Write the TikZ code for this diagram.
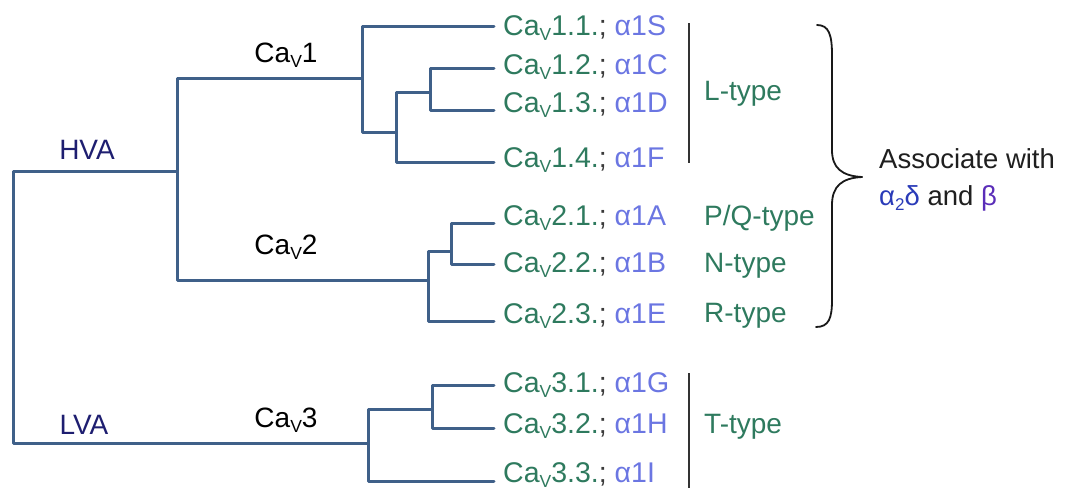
\documentclass[tikz,border=0pt]{standalone}
\usepackage{fontspec}
\setmainfont{Liberation Sans}
\definecolor{treeblue}{HTML}{3F6089}
\definecolor{leafgreen}{HTML}{2E7A5E}
\definecolor{isoblue}{HTML}{6B76E2}
\definecolor{navy}{HTML}{1E1E70}
\definecolor{auxblue}{HTML}{2A3BB8}
\definecolor{betapurple}{HTML}{5A2DB8}
\definecolor{bargray}{HTML}{333333}
\definecolor{semigray}{HTML}{3A3A3A}
% Ca_V with a small lowered V
\newcommand\CaV{Ca\raisebox{-5pt}{\fontsize{17.5}{17.5}\selectfont V}}
% one channel entry: green name, dark semicolon, blue alpha1 subunit
\newcommand\chan[2]{{\color{leafgreen}\CaV#1}{\color{semigray};} {\color{isoblue}α1#2}}
\begin{document}
\begin{tikzpicture}[x=1pt,y=-1pt,
  tree/.style={draw=treeblue,line width=3pt,line join=round,line cap=round},
  txt/.style={inner sep=0pt,anchor=base west,font=\fontsize{28.5}{32}\selectfont},
  leaflbl/.style={txt},
  typelbl/.style={txt,font=\fontsize{28}{32}\selectfont,text=leafgreen},
  grouplbl/.style={inner sep=0pt,font=\fontsize{28}{32}\selectfont},
  bar/.style={draw=bargray,line width=2pt},
  bracestyle/.style={draw=black!90,line width=1.8pt,line join=round,line cap=round}]
\useasboundingbox (0,0) rectangle (1072,488);

% branch points (vertical-line x, incoming y)
\coordinate (root) at (13,307);
\coordinate (hva)  at (177,171);
\coordinate (lva)  at (368,443);
\coordinate (c1)   at (362,78);
\coordinate (c2)   at (428,280);
\coordinate (n13)  at (396,132);
\coordinate (n12)  at (430,92);
\coordinate (n22)  at (451,251);
\coordinate (n32)  at (432,409);
% leaf ends
\coordinate (l11) at (494,26);
\coordinate (l12) at (494,68);
\coordinate (l13) at (494,110);
\coordinate (l14) at (494,162);
\coordinate (l21) at (494,223);
\coordinate (l22) at (494,264);
\coordinate (l23) at (494,321);
\coordinate (l31) at (494,385);
\coordinate (l32) at (494,428);
\coordinate (l33) at (494,481);

% dendrogram
\draw[tree] (hva) -| (root) |- (lva);
\draw[tree] (c1) -| (hva) |- (c2);
\draw[tree] (l11) -| (c1) |- (n13);
\draw[tree] (n12) -| (n13) |- (l14);
\draw[tree] (l12) -| (n12) |- (l13);
\draw[tree] (n22) -| (c2) |- (l23);
\draw[tree] (l21) -| (n22) |- (l22);
\draw[tree] (n32) -| (lva) |- (l33);
\draw[tree] (l31) -| (n32) |- (l32);

% branch labels
\node[grouplbl,text=navy] (hvalbl) at (87,150) {HVA};
\node[grouplbl,text=navy] (lvalbl) at (84,425) {LVA};
\node[grouplbl] (cav1) at (286,55) {\CaV1};
\node[grouplbl] (cav2) at (286,247) {\CaV2};
\node[grouplbl] (cav3) at (286,420) {\CaV3};

% channel entries
\node[leaflbl] (t11) at (503,35)  {\chan{1.1.}{S}};
\node[leaflbl] (t12) at (503,74)  {\chan{1.2.}{C}};
\node[leaflbl] (t13) at (503,112) {\chan{1.3.}{D}};
\node[leaflbl] (t14) at (503,167) {\chan{1.4.}{F}};
\node[leaflbl] (t21) at (503,225) {\chan{2.1.}{A}};
\node[leaflbl] (t22) at (503,272) {\chan{2.2.}{B}};
\node[leaflbl] (t23) at (503,323) {\chan{2.3.}{E}};
\node[leaflbl] (t31) at (503,392) {\chan{3.1.}{G}};
\node[leaflbl] (t32) at (503,433) {\chan{3.2.}{H}};
\node[leaflbl] (t33) at (503,482) {\chan{3.3.}{I}};

% current types
\coordinate (lbartop) at (689,23);
\coordinate (lbarbot) at (689,163);
\coordinate (tbartop) at (689,373);
\coordinate (tbarbot) at (689,488);
\draw[bar] (lbartop) -- (lbarbot);
\draw[bar] (tbartop) -- (tbarbot);
\node[typelbl] (ltype)  at (704,100) {L-type};
\node[typelbl] (pqtype) at (704,225) {P/Q-type};
\node[typelbl] (ntype)  at (704,272) {N-type};
\node[typelbl] (rtype)  at (704,322) {R-type};
\node[typelbl] (ttype)  at (704,433) {T-type};

% curly brace grouping the high-voltage-activated channels
\draw[bracestyle] (817,25) .. controls (829,25) and (832,35) .. (832,55)
  -- (832,150) .. controls (832,168) and (842,176) .. (862,177);
\draw[bracestyle] (862,177) .. controls (842,178) and (832,186) .. (832,205)
  -- (832,300) .. controls (832,318) and (829,327) .. (816,327);

% auxiliary subunits
\node[txt,font=\fontsize{27.5}{32}\selectfont,text=black!88] (assoc) at (879,168) {Associate with};
\node[txt,font=\fontsize{27.5}{32}\selectfont,text=black!88] (subunits) at (879,205)
  {{\color{auxblue}α\raisebox{-5pt}{\fontsize{17}{17}\selectfont 2}δ} and {\color{betapurple}β}};
\end{tikzpicture}
\end{document}
